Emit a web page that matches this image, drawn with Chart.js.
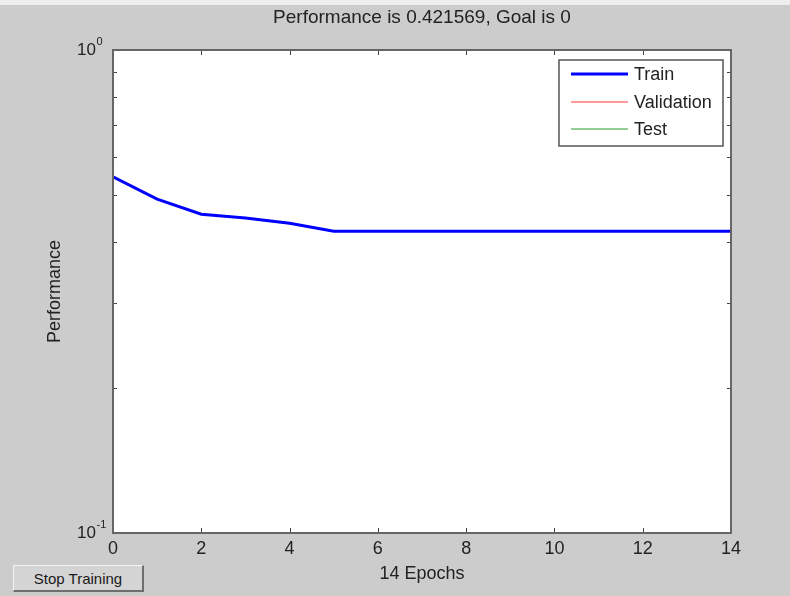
<!DOCTYPE html>
<html>
<head>
<meta charset="utf-8">
<script src="https://cdn.jsdelivr.net/npm/chart.js@4/dist/chart.umd.min.js"></script>
<style>
  html, body { margin: 0; padding: 0; background: #cccccc; overflow: hidden; }
  #wrap { position: relative; width: 790px; height: 596px; }
  canvas { display: block; }
  #stopBtn {
    position: absolute; left: 13px; top: 565px; width: 131px; height: 27px;
    font: 15px "Liberation Sans", Arial, sans-serif; color: #1a1a1a;
    background: #d4d4d4; padding: 0; margin: 0;
    border-top: 1px solid #f4f4f4; border-left: 1px solid #f4f4f4;
    border-right: 2px solid #6e6e6e; border-bottom: 2px solid #6e6e6e;
    box-sizing: border-box;
  }
</style>
</head>
<body>
<div id="wrap">
  <canvas id="c" width="790" height="596"></canvas>
  <button id="stopBtn">Stop Training</button>
</div>
<script>
// ---- data ----
const epochs = [0, 1, 2, 3, 4, 5, 6, 7, 8, 9, 10, 11, 12, 13, 14];
const trainPerf = [0.546, 0.491, 0.457, 0.449, 0.438, 0.4216, 0.4216, 0.4216, 0.4216, 0.4216, 0.4216, 0.4216, 0.4216, 0.4216, 0.421569];
const validationPerf = [];
const testPerf = [];
const seriesNames = ['Train', 'Validation', 'Test'];
const xTickValues = [0, 2, 4, 6, 8, 10, 12, 14];
const xTickLabels = ['0', '2', '4', '6', '8', '10', '12', '14'];
const yMajorValues = [0.1, 1];
const yMajorBase = ['10', '10'];
const yMajorExp = ['-1', '0'];
const yMinorValues = [0.2, 0.3, 0.4, 0.5, 0.6, 0.7, 0.8, 0.9];
const titleText = 'Performance is 0.421569, Goal is 0';
const xTitle = '14 Epochs';
const yTitle = 'Performance';

const FONT = '"Liberation Sans", Arial, Helvetica, sans-serif';
const TEXT = '#222222';

const toXY = (xs, ys) => ys.map((v, i) => ({ x: xs[i], y: v }));

const matlabPlugin = {
  id: 'matlabLook',
  beforeDraw(chart) {
    const ctx = chart.ctx, a = chart.chartArea;
    ctx.save();
    ctx.fillStyle = '#cccccc';
    ctx.fillRect(0, 0, chart.width, chart.height);
    ctx.fillStyle = '#eeeeee';
    ctx.fillRect(0, 0, chart.width, 5);
    ctx.fillStyle = '#ffffff';
    ctx.fillRect(a.left, a.top, a.right - a.left, a.bottom - a.top);
    ctx.restore();
  },
  afterDatasetsDraw(chart) {
    const ctx = chart.ctx, a = chart.chartArea;
    const xs = chart.scales.x, ys = chart.scales.y;
    ctx.save();
    // ticks (inward, MATLAB style)
    ctx.strokeStyle = '#444';
    ctx.lineWidth = 1;
    ctx.beginPath();
    xTickValues.forEach(v => {
      const px = Math.round(xs.getPixelForValue(v)) + 0.5;
      ctx.moveTo(px, a.bottom); ctx.lineTo(px, a.bottom - 5);
      ctx.moveTo(px, a.top); ctx.lineTo(px, a.top + 5);
    });
    yMinorValues.forEach(v => {
      const py = Math.round(ys.getPixelForValue(v)) + 0.5;
      ctx.moveTo(a.left, py); ctx.lineTo(a.left + 4, py);
      ctx.moveTo(a.right, py); ctx.lineTo(a.right - 4, py);
    });
    ctx.stroke();
    // frame
    ctx.strokeStyle = '#666666';
    ctx.lineWidth = 2;
    ctx.strokeRect(a.left, a.top, a.right - a.left, a.bottom - a.top);

    // x tick labels
    ctx.fillStyle = TEXT;
    ctx.font = '18px ' + FONT;
    ctx.textAlign = 'center';
    ctx.textBaseline = 'middle';
    xTickValues.forEach((v, i) => {
      ctx.fillText(xTickLabels[i], xs.getPixelForValue(v), a.bottom + 16);
    });
    // y tick labels with superscript exponent
    yMajorValues.forEach((v, i) => {
      const py = ys.getPixelForValue(v);
      ctx.font = '17px ' + FONT;
      ctx.textAlign = 'right';
      ctx.textBaseline = 'middle';
      ctx.fillText(yMajorBase[i], 96, py);
      ctx.font = '11px ' + FONT;
      ctx.textAlign = 'left';
      ctx.fillText(yMajorExp[i], 96.5, py - 8.5);
    });
    // title
    ctx.font = '19px ' + FONT;
    ctx.textAlign = 'center';
    ctx.textBaseline = 'middle';
    ctx.fillText(titleText, (a.left + a.right) / 2, 18);
    // x title
    ctx.font = '18px ' + FONT;
    ctx.fillText(xTitle, (a.left + a.right) / 2, 574);
    // y title
    ctx.save();
    ctx.translate(55, (a.top + a.bottom) / 2);
    ctx.rotate(-Math.PI / 2);
    ctx.fillText(yTitle, 0, 0);
    ctx.restore();

    // legend box
    const lx = 559, ly = 60, lw = 164, lh = 86;
    ctx.fillStyle = '#ffffff';
    ctx.fillRect(lx, ly, lw, lh);
    ctx.strokeStyle = '#555555';
    ctx.lineWidth = 1.5;
    ctx.strokeRect(lx, ly, lw, lh);
    const rows = [74, 102, 129];
    chart.data.datasets.forEach((ds, i) => {
      ctx.strokeStyle = ds.borderColor;
      ctx.lineWidth = ds.legendWidth;
      ctx.beginPath();
      ctx.moveTo(571, rows[i]); ctx.lineTo(628, rows[i]);
      ctx.stroke();
      ctx.fillStyle = TEXT;
      ctx.font = '18px ' + FONT;
      ctx.textAlign = 'left';
      ctx.textBaseline = 'middle';
      ctx.fillText(ds.label, 634, rows[i] + 1);
    });
    ctx.restore();
  }
};

new Chart(document.getElementById('c'), {
  type: 'line',
  data: {
    datasets: [
      { label: seriesNames[0], data: toXY(epochs, trainPerf), borderColor: '#0000ff', borderWidth: 3, legendWidth: 3, pointRadius: 0, tension: 0, fill: false },
      { label: seriesNames[1], data: toXY(epochs, validationPerf), borderColor: '#ff9a9a', borderWidth: 2, legendWidth: 2, pointRadius: 0, fill: false },
      { label: seriesNames[2], data: toXY(epochs, testPerf), borderColor: '#96cc96', borderWidth: 2, legendWidth: 2, pointRadius: 0, fill: false }
    ]
  },
  options: {
    responsive: false,
    animation: false,
    devicePixelRatio: 1,
    layout: { padding: { left: 113, top: 50, right: 59, bottom: 63 } },
    plugins: { legend: { display: false }, title: { display: false }, tooltip: { enabled: false } },
    scales: {
      x: { type: 'linear', min: 0, max: 14, display: false },
      y: { type: 'logarithmic', min: 0.1, max: 1, display: false }
    }
  },
  plugins: [matlabPlugin]
});
</script>
</body>
</html>
